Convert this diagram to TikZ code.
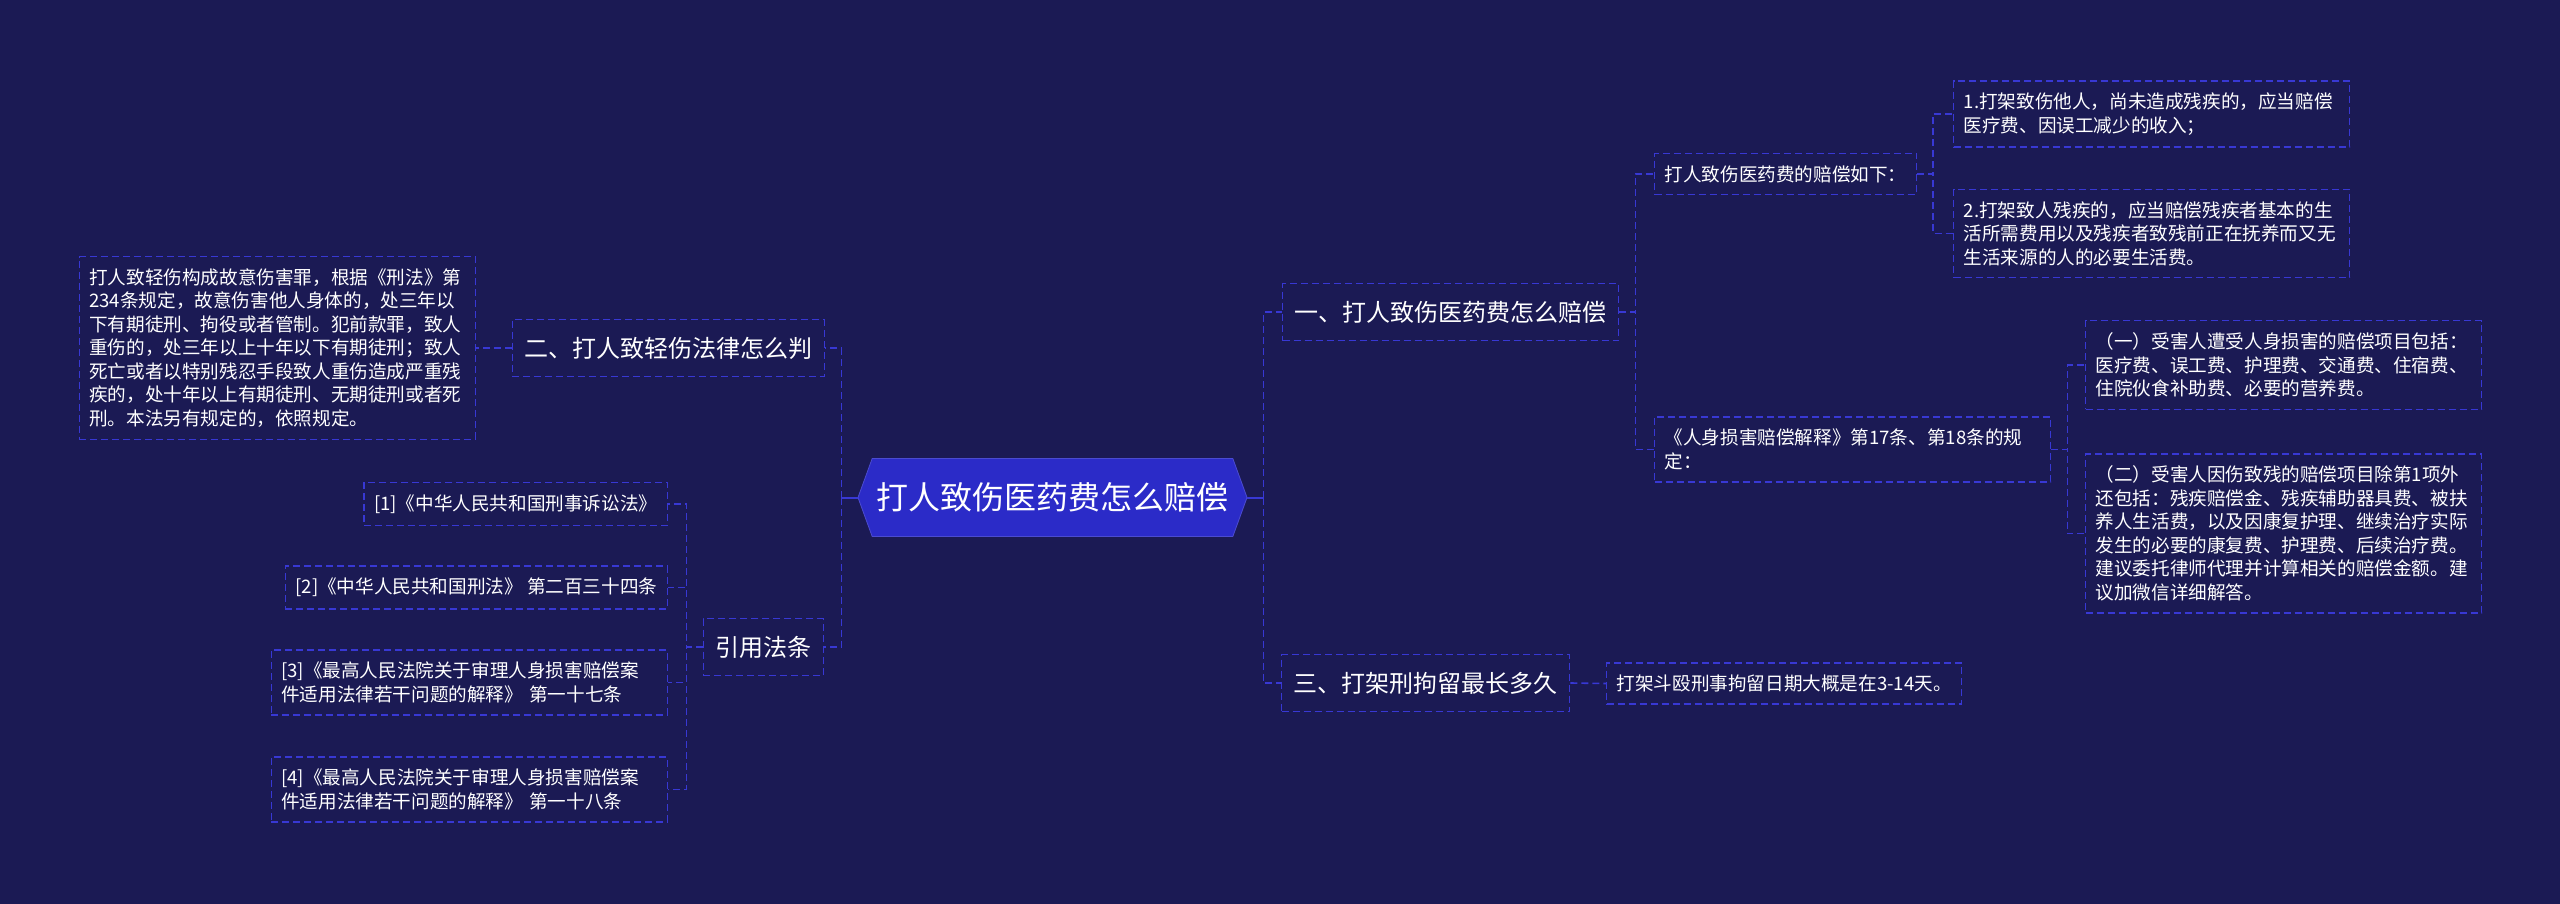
\documentclass[tikz,border=0pt]{standalone}
\usepackage{fontspec}
\setmainfont{Noto Sans CJK SC}
\usetikzlibrary{shapes.symbols}
\definecolor{MapNight}{HTML}{1B1A54}
\definecolor{MapRoot}{HTML}{2B2BC8}
\definecolor{MapLine}{HTML}{3838D4}

\begin{document}
\begin{tikzpicture}[x=0.5pt,y=-0.5pt,
  rootbox/.style={signal,signal to=east and west,signal pointer angle=140,fill=MapRoot,draw=MapRoot!85!white,
    text=white,font=\fontsize{16}{19}\selectfont,minimum width=194.5pt,minimum height=39pt,inner xsep=0pt},
  branchbox/.style={draw=MapLine,dash pattern=on 3.5pt off 2pt,line width=0.7pt,text=white,
    font=\fontsize{12}{14}\selectfont,minimum height=28.5pt,inner xsep=6pt},
  leafbox/.style={draw=MapLine,dash pattern=on 3.5pt off 2pt,line width=0.7pt,text=white,
    font=\fontsize{9.3}{11.75}\selectfont,align=left,inner xsep=5pt,inner ysep=6pt},
  leafwide/.style={text width=188pt},
  link/.style={MapLine,dash pattern=on 3.5pt off 2pt,line width=0.8pt},
  stem/.style={MapLine,line width=1pt}]
\fill[MapNight] (0,0) rectangle (2560,904);
\useasboundingbox (0,0) rectangle (2560,904);

\node[rootbox] (root) at (1052.5,497.5) {打人致伤医药费怎么赔偿};

\node[branchbox,anchor=west] (b1) at (1282,312) {一、打人致伤医药费怎么赔偿};
\node[branchbox,anchor=east] (b2) at (825,348) {二、打人致轻伤法律怎么判};
\node[branchbox,anchor=east] (b3) at (824,647) {引用法条};
\node[branchbox,anchor=west] (b4) at (1281,683) {三、打架刑拘留最长多久};

\node[leafbox,anchor=west] (l11) at (1654,174) {打人致伤医药费的赔偿如下：};
\node[leafbox,leafwide,anchor=west] (l111) at (1953,114) {1.打架致伤他人，尚未造成残疾的，应当赔偿\\医疗费、因误工减少的收入；};
\node[leafbox,leafwide,anchor=west] (l112) at (1953,233.5) {2.打架致人残疾的，应当赔偿残疾者基本的生\\活所需费用以及残疾者致残前正在抚养而又无\\生活来源的人的必要生活费。};
\node[leafbox,leafwide,anchor=west] (l12) at (1654,449.5) {《人身损害赔偿解释》第17条、第18条的规\\定：};
\node[leafbox,leafwide,anchor=west] (l121) at (2085,365) {（一）受害人遭受人身损害的赔偿项目包括：\\医疗费、误工费、护理费、交通费、住宿费、\\住院伙食补助费、必要的营养费。};
\node[leafbox,leafwide,anchor=west] (l122) at (2085,533.5) {（二）受害人因伤致残的赔偿项目除第1项外\\还包括：残疾赔偿金、残疾辅助器具费、被扶\\养人生活费，以及因康复护理、继续治疗实际\\发生的必要的康复费、护理费、后续治疗费。\\建议委托律师代理并计算相关的赔偿金额。建\\议加微信详细解答。};

\node[leafbox,leafwide,anchor=east] (l21) at (476,348) {打人致轻伤构成故意伤害罪，根据《刑法》第\\234条规定，故意伤害他人身体的，处三年以\\下有期徒刑、拘役或者管制。犯前款罪，致人\\重伤的，处三年以上十年以下有期徒刑；致人\\死亡或者以特别残忍手段致人重伤造成严重残\\疾的，处十年以上有期徒刑、无期徒刑或者死\\刑。本法另有规定的，依照规定。};

\node[leafbox,anchor=east] (l31) at (668,504) {[1]《中华人民共和国刑事诉讼法》};
\node[leafbox,anchor=east] (l32) at (668,587.5) {[2]《中华人民共和国刑法》 第二百三十四条};
\node[leafbox,leafwide,anchor=east] (l33) at (668,682.5) {[3]《最高人民法院关于审理人身损害赔偿案\\件适用法律若干问题的解释》 第一十七条};
\node[leafbox,leafwide,anchor=east] (l34) at (668,789.5) {[4]《最高人民法院关于审理人身损害赔偿案\\件适用法律若干问题的解释》 第一十八条};

\node[leafbox,anchor=west] (l41) at (1606,683.5) {打架斗殴刑事拘留日期大概是在3-14天。};

\draw[stem] (root.east) -- ++(8pt,0) coordinate (rfork);
\draw[stem] (root.west) -- ++(-8pt,0) coordinate (lfork);
\foreach \kid in {b1,b4} \draw[link] (rfork) |- (\kid.west);
\foreach \kid in {b2,b3} \draw[link] (lfork) |- (\kid.east);
\foreach \kid in {l11,l12} \draw[link] (b1.east) -- ++(8pt,0) |- (\kid.west);
\foreach \kid in {l111,l112} \draw[link] (l11.east) -- ++(8pt,0) |- (\kid.west);
\foreach \kid in {l121,l122} \draw[link] (l12.east) -- ++(8pt,0) |- (\kid.west);
\foreach \kid in {l31,l32,l33,l34} \draw[link] (b3.west) -- ++(-8pt,0) |- (\kid.east);
\draw[link] (b2.west) -- (l21.east);
\draw[link] (b4.east) -- (l41.west);
\end{tikzpicture}
\end{document}
